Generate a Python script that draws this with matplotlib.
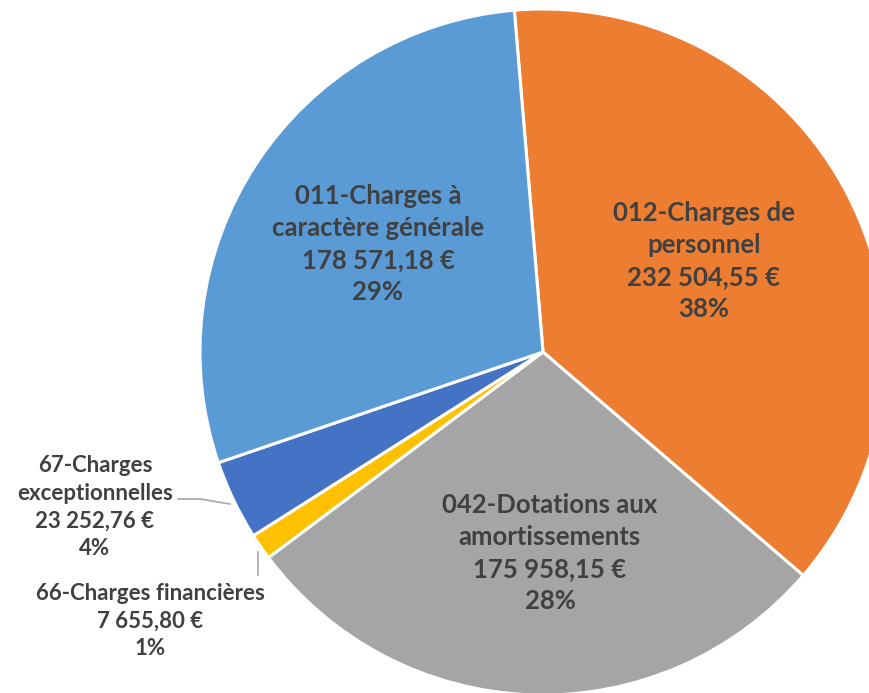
import matplotlib.pyplot as plt

# budget data (charges)
labels = ["012-Charges de\npersonnel", "042-Dotations aux\namortissements",
          "66-Charges financières", "67-Charges\nexceptionnelles",
          "011-Charges à\ncaractère générale"]
values = [232504.55, 175958.15, 7655.80, 23252.76, 178571.18]
colors = ["#ED7D31", "#A5A5A5", "#FFC000", "#4472C4", "#5B9BD5"]

# label centres in pixels (x, y from top) and font sizes
label_pos = [(704, 261), (550, 553), (150, 621), (95, 507), (378, 244)]
label_size = [18.5, 18.5, 16, 16, 18.5]

W, H = 870, 693

def euro(v):
    return f"{v:,.2f}".replace(",", " ").replace(".", ",") + " €"

total = sum(values)

fig = plt.figure(figsize=(W / 100, H / 100), dpi=100)
ax = fig.add_axes([0, 0, 1, 1])

ax.pie(values, colors=colors, startangle=94.8, counterclock=False,
       center=(543, H - 352), radius=343, frame=True,
       wedgeprops=dict(edgecolor="white", linewidth=2.2))
ax.set_xlim(0, W)
ax.set_ylim(0, H)
ax.axis("off")

for lab, v, (x, y), fs in zip(labels, values, label_pos, label_size):
    txt = f"{lab}\n{euro(v)}\n{round(v / total * 100):.0f}%"
    ax.text(x, H - y, txt, ha="center", va="center", fontsize=fs,
            fontweight="bold", family="Lato", color="#404040", linespacing=1.4)

# leader lines for the small slices
ax.plot([178, 200, 230], [H - 499, H - 499, H - 504], color="#A6A6A6", lw=1.2)
ax.plot([258, 258], [H - 552, H - 575], color="#A6A6A6", lw=1.2)

fig.savefig("out.png", dpi=100)
